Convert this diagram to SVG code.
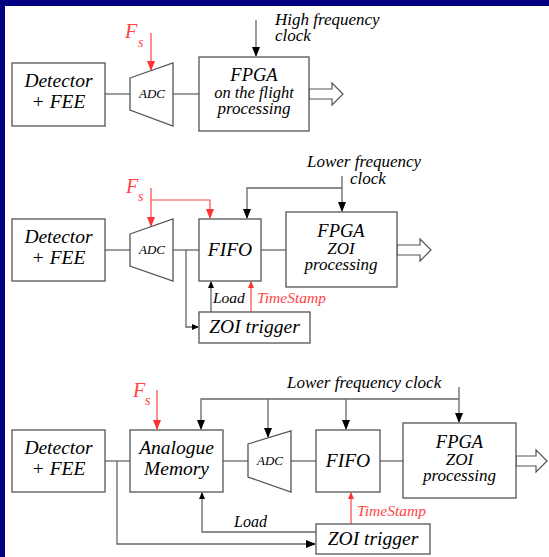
<svg xmlns="http://www.w3.org/2000/svg" width="549" height="557" viewBox="0 0 549 557">
<style>
.bx{fill:#fff;stroke:#555;stroke-width:1.3}
.ln{fill:none;stroke:#666;stroke-width:1.3}
.rd{fill:none;stroke:#f44;stroke-width:1.2}
.ha{fill:#fff;stroke:#555;stroke-width:1.2}
.c{text-anchor:middle}
</style>
<defs>
<path id="ahd" d="M-10,-4 L0,0 L-10,4 z"/>
<path id="asd" d="M-7,-3 L0,0 L-7,3 z"/>
</defs>
<rect x="0" y="0" width="549" height="557" fill="#fff"/>
<rect x="0" y="0" width="549" height="6" fill="#000080"/>
<rect x="0" y="0" width="5" height="557" fill="#000080"/>

<g id="connectors">
<path class="ln" d="M105,94 H130"/>
<path class="ln" d="M173,94 H199"/>
<path class="ln" d="M256,20 V56"/>
<use href="#ahd" fill="#000" transform="translate(256,57) rotate(90)"/>
<path class="rd" d="M151,33 V70"/>
<use href="#ahd" fill="#f33" transform="translate(151,71) rotate(90)"/>
<polygon class="ha" points="309,89 332,89 332,83 343,94 332,105 332,99 309,99"/>

<path class="ln" d="M105,250 H130"/>
<path class="ln" d="M173,250 H199"/>
<path class="ln" d="M186,250 V327 H198"/>
<use href="#asd" fill="#000" transform="translate(199,327)"/>
<path class="ln" d="M261,250 H286"/>
<path class="ln" d="M342,176 V211"/>
<use href="#ahd" fill="#000" transform="translate(342,212) rotate(90)"/>
<path class="ln" d="M342,188 H247 V218"/>
<use href="#ahd" fill="#000" transform="translate(247,219) rotate(90)"/>
<path class="rd" d="M151,188 V226"/>
<use href="#ahd" fill="#f33" transform="translate(151,227) rotate(90)"/>
<path class="rd" d="M151,200 H210 V218"/>
<use href="#ahd" fill="#f33" transform="translate(210,219) rotate(90)"/>
<path class="ln" d="M211,312 V282"/>
<use href="#asd" fill="#000" transform="translate(211,281) rotate(-90)"/>
<path class="rd" d="M251,312 V282"/>
<use href="#asd" fill="#f33" transform="translate(251,281) rotate(-90)"/>
<polygon class="ha" points="397,245 420,245 420,239 431,250 420,261 420,255 397,255"/>

<path class="ln" d="M105,461 H130"/>
<path class="ln" d="M117,461 V544 H315"/>
<use href="#ahd" fill="#000" transform="translate(316,544)"/>
<path class="ln" d="M223,461 H248"/>
<path class="ln" d="M291,461 H316"/>
<path class="ln" d="M380,461 H403"/>
<path class="ln" d="M459,387 V422"/>
<use href="#ahd" fill="#000" transform="translate(459,423) rotate(90)"/>
<path class="ln" d="M459,399 H201 V429"/>
<use href="#ahd" fill="#000" transform="translate(201,430) rotate(90)"/>
<path class="ln" d="M268,399 V437"/>
<use href="#ahd" fill="#000" transform="translate(268,438) rotate(90)"/>
<path class="ln" d="M346,399 V429"/>
<use href="#ahd" fill="#000" transform="translate(346,430) rotate(90)"/>
<path class="rd" d="M157,390 V429"/>
<use href="#ahd" fill="#f33" transform="translate(157,430) rotate(90)"/>
<path class="ln" d="M316,532 H202 V493"/>
<use href="#asd" fill="#000" transform="translate(202,492) rotate(-90)"/>
<path class="rd" d="M351,524 V493"/>
<use href="#asd" fill="#f33" transform="translate(351,492) rotate(-90)"/>
<polygon class="ha" points="516,456 536,456 536,450 547,461 536,472 536,466 516,466"/>
</g>

<g id="labels">
<text font-family="Liberation Serif" style="font-family:'Liberation Serif' !important;font-style:italic;font-size:17px" x="275" y="25">High frequency</text>
<text font-family="Liberation Serif" style="font-family:'Liberation Serif' !important;font-style:italic;font-size:17px" x="275" y="41">clock</text>
<text font-family="Liberation Serif" style="font-family:'Liberation Serif' !important;font-style:italic;font-size:20px" fill="#f44" x="125" y="38">F</text>
<text font-family="Liberation Serif" style="font-family:'Liberation Serif' !important;font-style:italic;font-size:14px" fill="#f44" x="138" y="47">s</text>
<text font-family="Liberation Serif" style="font-family:'Liberation Serif' !important;font-style:italic;font-size:17px" x="307" y="167">Lower frequency</text>
<text font-family="Liberation Serif" style="font-family:'Liberation Serif' !important;font-style:italic;font-size:17px" x="350" y="184">clock</text>
<text font-family="Liberation Serif" style="font-family:'Liberation Serif' !important;font-style:italic;font-size:20px" fill="#f44" x="126" y="193">F</text>
<text font-family="Liberation Serif" style="font-family:'Liberation Serif' !important;font-style:italic;font-size:14px" fill="#f44" x="138" y="201">s</text>
<text font-family="Liberation Serif" style="font-family:'Liberation Serif' !important;font-style:italic;font-size:15.5px" x="213" y="303">Load</text>
<text font-family="Liberation Serif" style="font-family:'Liberation Serif' !important;font-style:italic;font-size:15.5px" fill="#f44" x="257" y="303">TimeStamp</text>
<text font-family="Liberation Serif" style="font-family:'Liberation Serif' !important;font-style:italic;font-size:17px" x="287" y="388">Lower frequency clock</text>
<text font-family="Liberation Serif" style="font-family:'Liberation Serif' !important;font-style:italic;font-size:20px" fill="#f44" x="133" y="397">F</text>
<text font-family="Liberation Serif" style="font-family:'Liberation Serif' !important;font-style:italic;font-size:14px" fill="#f44" x="145" y="405">s</text>
<text font-family="Liberation Serif" style="font-family:'Liberation Serif' !important;font-style:italic;font-size:16px" x="234" y="527">Load</text>
<text font-family="Liberation Serif" style="font-family:'Liberation Serif' !important;font-style:italic;font-size:15.5px" fill="#f44" x="357" y="516">TimeStamp</text>
</g>

<g id="det1"><rect class="bx" x="12" y="63" width="93" height="63"/><text class="c" font-family="Liberation Serif" style="font-family:'Liberation Serif' !important;font-style:italic;font-size:19.5px" x="58.5" y="87">Detector</text><text class="c" font-family="Liberation Serif" style="font-family:'Liberation Serif' !important;font-style:italic;font-size:19.5px" x="58.5" y="108">+ FEE</text></g>
<g id="adc1"><polygon class="bx" points="130,78 173,63 173,126 130,110"/><text class="c" font-family="Liberation Serif" style="font-family:'Liberation Serif' !important;font-style:italic;font-size:13px" x="152" y="98">ADC</text></g>
<g id="fpga1"><rect class="bx" x="199" y="57" width="110" height="74"/><text class="c" font-family="Liberation Serif" style="font-family:'Liberation Serif' !important;font-style:italic;font-size:18.5px" x="254" y="81">FPGA</text><text class="c" font-family="Liberation Serif" style="font-family:'Liberation Serif' !important;font-style:italic;font-size:16.5px" x="254" y="98">on the flight</text><text class="c" font-family="Liberation Serif" style="font-family:'Liberation Serif' !important;font-style:italic;font-size:17px" x="254" y="114">processing</text></g>

<g id="det2"><rect class="bx" x="12" y="219" width="93" height="62"/><text class="c" font-family="Liberation Serif" style="font-family:'Liberation Serif' !important;font-style:italic;font-size:19.5px" x="58.5" y="242.5">Detector</text><text class="c" font-family="Liberation Serif" style="font-family:'Liberation Serif' !important;font-style:italic;font-size:19.5px" x="58.5" y="263.5">+ FEE</text></g>
<g id="adc2"><polygon class="bx" points="130,234 173,219 173,281 130,266"/><text class="c" font-family="Liberation Serif" style="font-family:'Liberation Serif' !important;font-style:italic;font-size:13px" x="152" y="254">ADC</text></g>
<g id="fifo2"><rect class="bx" x="199" y="219" width="62" height="62"/><text class="c" font-family="Liberation Serif" style="font-family:'Liberation Serif' !important;font-style:italic;font-size:19.5px" x="230" y="256">FIFO</text></g>
<g id="fpga2"><rect class="bx" x="286" y="212" width="111" height="75"/><text class="c" font-family="Liberation Serif" style="font-family:'Liberation Serif' !important;font-style:italic;font-size:18.5px" x="341" y="236.5">FPGA</text><text class="c" font-family="Liberation Serif" style="font-family:'Liberation Serif' !important;font-style:italic;font-size:17px" x="341" y="253.5">ZOI</text><text class="c" font-family="Liberation Serif" style="font-family:'Liberation Serif' !important;font-style:italic;font-size:17px" x="341" y="269.5">processing</text></g>
<g id="zoi2"><rect class="bx" x="199" y="312" width="111" height="31"/><text class="c" font-family="Liberation Serif" style="font-family:'Liberation Serif' !important;font-style:italic;font-size:19.5px" x="254.5" y="333">ZOI trigger</text></g>

<g id="det3"><rect class="bx" x="12" y="430" width="93" height="62"/><text class="c" font-family="Liberation Serif" style="font-family:'Liberation Serif' !important;font-style:italic;font-size:19.5px" x="58.5" y="453.5">Detector</text><text class="c" font-family="Liberation Serif" style="font-family:'Liberation Serif' !important;font-style:italic;font-size:19.5px" x="58.5" y="474.5">+ FEE</text></g>
<g id="mem3"><rect class="bx" x="130" y="430" width="93" height="62"/><text class="c" font-family="Liberation Serif" style="font-family:'Liberation Serif' !important;font-style:italic;font-size:19.5px" x="176.5" y="453.5">Analogue</text><text class="c" font-family="Liberation Serif" style="font-family:'Liberation Serif' !important;font-style:italic;font-size:19.5px" x="176.5" y="474.5">Memory</text></g>
<g id="adc3"><polygon class="bx" points="248,444 291,431 291,492 248,477"/><text class="c" font-family="Liberation Serif" style="font-family:'Liberation Serif' !important;font-style:italic;font-size:13px" x="270" y="465">ADC</text></g>
<g id="fifo3"><rect class="bx" x="316" y="430" width="64" height="62"/><text class="c" font-family="Liberation Serif" style="font-family:'Liberation Serif' !important;font-style:italic;font-size:19.5px" x="348" y="467">FIFO</text></g>
<g id="fpga3"><rect class="bx" x="403" y="423" width="113" height="75"/><text class="c" font-family="Liberation Serif" style="font-family:'Liberation Serif' !important;font-style:italic;font-size:18.5px" x="459.5" y="447.5">FPGA</text><text class="c" font-family="Liberation Serif" style="font-family:'Liberation Serif' !important;font-style:italic;font-size:17px" x="459.5" y="464.5">ZOI</text><text class="c" font-family="Liberation Serif" style="font-family:'Liberation Serif' !important;font-style:italic;font-size:17px" x="459.5" y="480.5">processing</text></g>
<g id="zoi3"><rect class="bx" x="316" y="524" width="114" height="30"/><text class="c" font-family="Liberation Serif" style="font-family:'Liberation Serif' !important;font-style:italic;font-size:19.5px" x="373" y="545">ZOI trigger</text></g>
</svg>
